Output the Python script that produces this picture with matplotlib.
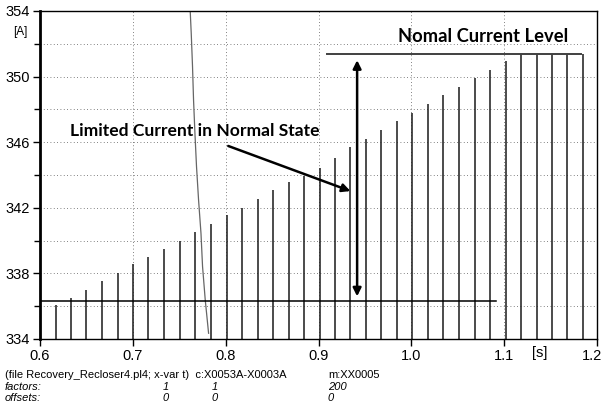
import matplotlib
matplotlib.use('Agg')
import matplotlib.pyplot as plt
from matplotlib.transforms import ScaledTranslation

# peaks of the current wave (time [s], peak [A])
spike_t = [0.6169, 0.6334, 0.6499, 0.6669, 0.6841, 0.7000, 0.7168, 0.7338, 0.7503,
           0.7672, 0.7845, 0.8014, 0.8176, 0.8344, 0.8510, 0.8679, 0.8848, 0.9013,
           0.9182, 0.9344, 0.9513, 0.9678, 0.9848, 1.0011, 1.0178, 1.0344, 1.0512,
           1.0682, 1.0847, 1.1019, 1.1185, 1.1351, 1.1520, 1.1682, 1.1854]
spike_peak = [336.1, 336.5, 337.0, 337.55, 338.05, 338.6, 339.0, 339.5, 339.95,
              340.5, 341.0, 341.55, 342.0, 342.55, 343.1, 343.55, 343.95, 344.45,
              345.05, 345.7, 346.2, 346.75, 347.3, 347.8, 348.3, 348.85, 349.35,
              349.9, 350.4, 350.95, 351.4, 351.4, 351.4, 351.4, 351.4]

# falling curve (second signal)
fall_t = [0.7618, 0.7629, 0.7643, 0.7654, 0.7669, 0.7686, 0.7708, 0.7734, 0.7751, 0.7780, 0.7816]
fall_v = [354.0, 352.65, 350.61, 348.57, 346.54, 344.51, 342.48, 340.45, 338.42, 336.38, 334.35]

# reference levels
limited_level = 336.3
normal_level = 351.4

x_ticks = [0.6, 0.7, 0.8, 0.9, 1.0, 1.1, 1.2]
x_labels = ['0.6', '0.7', '0.8', '0.9', '1.0', '1.1', '1.2']
y_ticks = [334, 338, 342, 346, 350, 354]

fig = plt.figure(figsize=(6.03, 4.03), dpi=100)
ax = fig.add_axes([40 / 603, 1 - 339 / 403, 557 / 603, 328 / 403])

ax.set_xlim(0.6, 1.2)
ax.set_ylim(334, 354)

# grid
for y in range(336, 354, 2):
    ax.axhline(y, color='0.35', lw=0.6, ls=(0, (1, 3)), zorder=0)
for x in x_ticks[1:-1]:
    ax.axvline(x, color='0.35', lw=0.6, ls=(0, (1, 3)), zorder=0)

# waveform peaks
ax.vlines(spike_t, 333, spike_peak, color='0.1', lw=1.1, zorder=2)
ax.plot(fall_t, fall_v, color='0.4', lw=0.9, zorder=2)

# levels
ax.plot([0.6, 1.091], [limited_level, limited_level], color='black', lw=1.1, zorder=3)
ax.plot([0.9096, 1.1825], [normal_level, normal_level], color='0.25', lw=1.4, zorder=3)

# annotations
ax.annotate('', xy=(0.9416, 351.0), xytext=(0.9416, 336.6),
            arrowprops=dict(arrowstyle='<|-|>', color='black', lw=1.8,
                            mutation_scale=12, shrinkA=0, shrinkB=0), zorder=4)
ax.annotate('', xy=(0.9344, 343.02), xytext=(0.8028, 345.77),
            arrowprops=dict(arrowstyle='-|>', color='black', lw=1.8,
                            mutation_scale=12, shrinkA=0, shrinkB=0), zorder=4)
ax.text(0.6325, 346.7, 'Limited Current in Normal State', fontsize=12.6,
        fontweight='bold', family='Lato', va='center', ha='left', zorder=5)
ax.text(0.9855, 352.45, 'Nomal Current Level', fontsize=13.2,
        fontweight='bold', family='Lato', va='center', ha='left', zorder=5)

# axes styling
ax.set_xticks(x_ticks)
ax.set_xticklabels(x_labels)
ax.set_yticks(y_ticks)
ax.set_yticks(range(336, 354, 4), minor=True)
ax.tick_params(axis='both', direction='out', length=5, width=1, labelsize=10.5,
               colors='black', pad=2)
ax.tick_params(axis='y', which='minor', length=4, width=1)
for lbl in ax.get_xticklabels() + ax.get_yticklabels():
    lbl.set_family('Liberation Sans')
last = ax.get_xticklabels()[-1]
last.set_transform(last.get_transform() + ScaledTranslation(-5 / 100, 0, fig.dpi_scale_trans))
for side in ['left', 'bottom', 'right', 'top']:
    ax.spines[side].set_linewidth(1.0)
ax.spines['left'].set_linewidth(2.0)

fig.text(20 / 603, 1 - 32 / 403, '[A]', fontsize=8.5, family='Liberation Sans',
         ha='center', va='center')
fig.text(540 / 603, 1 - 353 / 403, '[s]', fontsize=10.5, family='Liberation Sans',
         ha='center', va='center')

# file info footer
foot = dict(fontsize=8, family='Liberation Sans', va='center')
fig.text(5 / 603, 1 - 375 / 403, '(file Recovery_Recloser4.pl4; x-var t)  c:X0053A-X0003A', **foot)
fig.text(328 / 603, 1 - 375 / 403, 'm:XX0005', **foot)
fig.text(5 / 603, 1 - 387 / 403, 'factors:', style='italic', **foot)
fig.text(5 / 603, 1 - 398 / 403, 'offsets:', style='italic', **foot)
for xp, f, o in [(163, '1', '0'), (212, '1', '0'), (328, '200', '0')]:
    fig.text(xp / 603, 1 - 387 / 403, f, style='italic', **foot)
    fig.text(xp / 603, 1 - 398 / 403, o, style='italic', **foot)

fig.savefig('out.png', dpi=100)
